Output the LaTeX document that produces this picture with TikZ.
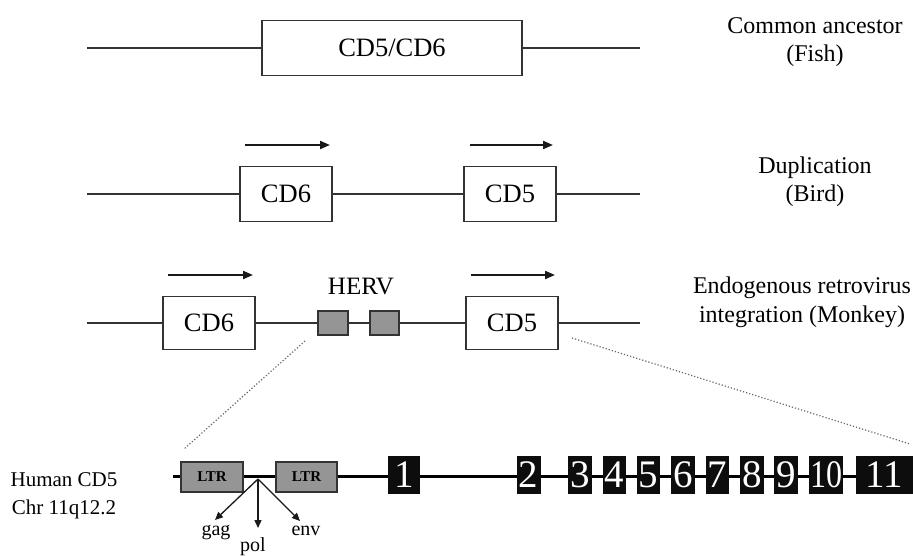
\documentclass[tikz,border=0pt]{standalone}
\usepackage{fontspec}
\setmainfont{Liberation Serif}
\usetikzlibrary{arrows.meta}
\definecolor{ln}{HTML}{333333}
\definecolor{gbox}{HTML}{959595}
\tikzset{
  gline/.style={draw=ln, line width=1.6pt},
  genebox/.style={draw=ln, line width=1.6pt, fill=white, inner sep=0pt, font=\fontsize{26.5}{30}\selectfont},
  hervbox/.style={draw=ln, line width=1.4pt, fill=gbox, inner sep=0pt, minimum width=30pt, minimum height=24pt},
  ltrbox/.style={draw=ln, line width=1.4pt, fill=gbox, inner sep=0pt, minimum width=62pt, minimum height=30pt, font=\fontsize{15}{17}\selectfont\bfseries},
  exon/.style={fill=black!95, inner sep=0pt, minimum height=38pt, text=white, font=\fontsize{39}{40}\selectfont},
  dir/.style={draw=black!90, line width=2pt, -{Triangle[length=10pt,width=8pt]}},
  prod/.style={draw=black!90, line width=1.3pt, -{Triangle[length=8pt,width=7pt]}},
  lbl/.style={anchor=base, inner sep=0pt, font=\fontsize{24}{28}\selectfont},
  small/.style={anchor=base, inner sep=0pt, font=\fontsize{21}{24}\selectfont},
  zoomline/.style={draw=black!60, line width=1.2pt, dotted}
}
\begin{document}
\begin{tikzpicture}[x=1pt,y=-1pt]
\useasboundingbox (0,0) rectangle (913,556);
% Row 1
\coordinate (r1a) at (87,48);
\coordinate (r1b) at (640,48);
\node[genebox, minimum width=260pt, minimum height=55pt] (anc) at (392,48) {CD5/CD6};
\draw[gline] (r1a) -- (anc.west);
\draw[gline] (anc.east) -- (r1b);
% Row 2
\coordinate (r2a) at (87,194);
\coordinate (r2b) at (640,194);
\node[genebox, minimum width=92pt, minimum height=55pt] (b6) at (286,194) {CD6};
\node[genebox, minimum width=92pt, minimum height=55pt] (b5) at (510,194) {CD5};
\draw[gline] (r2a) -- (b6.west);
\draw[gline] (b6.east) -- (b5.west);
\draw[gline] (b5.east) -- (r2b);
\coordinate (a6s) at (245,145); \coordinate (a6e) at (330,145);
\coordinate (a5s) at (470,145); \coordinate (a5e) at (553,145);
\draw[dir] (a6s) -- (a6e);
\draw[dir] (a5s) -- (a5e);
% Row 3
\coordinate (r3a) at (87,323);
\coordinate (r3b) at (640,323);
\node[genebox, minimum width=92pt, minimum height=53pt] (c6) at (209,323) {CD6};
\node[hervbox] (h1) at (333,323) {};
\node[hervbox, minimum width=29pt] (h2) at (384.5,323) {};
\node[genebox, minimum width=92pt, minimum height=53pt] (c5) at (512,323) {CD5};
\node[anchor=base, inner sep=0pt, font=\fontsize{25}{28}\selectfont] (herv) at (361,294) {HERV};
\draw[gline] (r3a) -- (c6.west);
\draw[gline] (c6.east) -- (h1.west);
\draw[gline] (h1.east) -- (h2.west);
\draw[gline] (h2.east) -- (c5.west);
\draw[gline] (c5.east) -- (r3b);
\coordinate (d6s) at (168,275); \coordinate (d6e) at (253,275);
\coordinate (d5s) at (471,275); \coordinate (d5e) at (555,275);
\draw[dir] (d6s) -- (d6e);
\draw[dir] (d5s) -- (d5e);
% Zoom lines
\coordinate (zl1) at (305,341);
\coordinate (zl2) at (184,449);
\coordinate (zr1) at (572,338);
\coordinate (zr2) at (910,444);
\draw[zoomline] (zl1) -- (zl2);
\draw[zoomline] (zr1) -- (zr2);
% Bottom row
\coordinate (bst) at (173,476);
\coordinate (ben) at (913,476);
\draw[draw=black, line width=3pt] (bst) -- (ben);
\node[ltrbox] (ltr1) at (212,477) {LTR};
\node[ltrbox, minimum width=61pt] (ltr2) at (306.5,477) {LTR};
\node[exon, minimum width=32pt] (e1) at (404,475) {1};
\node[exon, minimum width=24pt] (e2) at (528.7,475) {2};
\node[exon, minimum width=24pt] (e3) at (580,475) {3};
\node[exon, minimum width=23pt] (e4) at (614.3,475) {4};
\node[exon, minimum width=23pt] (e5) at (648.3,475) {5};
\node[exon, minimum width=24pt] (e6) at (683,475) {6};
\node[exon, minimum width=23pt] (e7) at (717.3,475) {7};
\node[exon, minimum width=24pt] (e8) at (752,475) {8};
\node[exon, minimum width=24pt] (e9) at (786,475) {9};
\node[exon, minimum width=34pt] (e10) at (826,475) {\scalebox{0.82}[1]{10}};
\node[exon, minimum width=57pt] (e11) at (884.5,475) {11};
% gag pol env
\coordinate (src) at (258,479);
\coordinate (gagE) at (215,520);
\coordinate (polE) at (258,528);
\coordinate (envE) at (300,521);
\draw[prod] (src) -- (gagE);
\draw[prod] (src) -- (polE);
\draw[prod] (src) -- (envE);
\node[anchor=base, inner sep=0pt, font=\fontsize{20}{22}\selectfont] (gag) at (216,535) {gag};
\node[anchor=base, inner sep=0pt, font=\fontsize{20}{22}\selectfont] (pol) at (253,551) {pol};
\node[anchor=base, inner sep=0pt, font=\fontsize{20}{22}\selectfont] (env) at (306,535) {env};
% Left labels
\node[small] (hum) at (64,486) {Human CD5};
\node[small] (chr) at (64,514) {Chr 11q12.2};
% Right labels
\node[lbl] (t1a) at (815,34) {Common ancestor};
\node[lbl] (t1b) at (815,62) {(Fish)};
\node[lbl] (t2a) at (815,174) {Duplication};
\node[lbl] (t2b) at (815,202) {(Bird)};
\node[lbl] (t3a) at (802,293) {Endogenous retrovirus};
\node[lbl] (t3b) at (802,322) {integration (Monkey)};
\end{tikzpicture}
\end{document}
